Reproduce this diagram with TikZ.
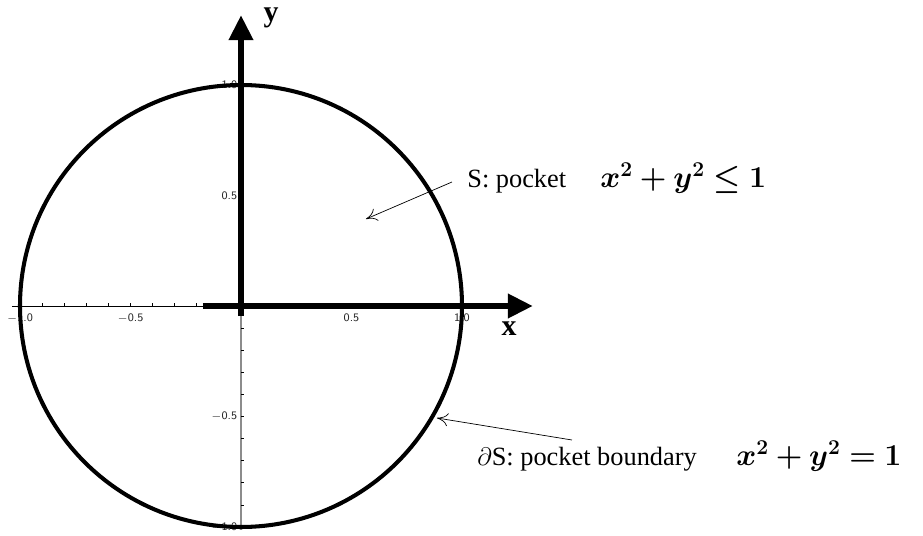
\documentclass[tikz,border=0pt]{standalone}
\usepackage{fontspec}
\setmainfont{Liberation Serif}
\usepackage{bm}
\usetikzlibrary{arrows.meta, positioning}

\begin{document}
\begin{tikzpicture}[x=1cm, y=1cm,
    thickaxis/.style={line width=3.6pt, -{Triangle[length=0.5cm, width=0.46cm]}},
    ticklbl/.style={font=\fontsize{6.5}{7}\sffamily, text=black!85, inner sep=1pt},
    note/.style={font=\fontsize{15}{18}\selectfont, anchor=west, inner sep=0pt},
    axlbl/.style={font=\fontsize{17}{20}\selectfont\bfseries, inner sep=0pt},
    callout/.style={-{To[length=2.2mm, width=2.6mm]}, line width=0.4pt}]
    \useasboundingbox (-4.82,-4.58) rectangle (13.64,6.12);

    % thin axes with ticks (one tick every 0.1)
    \draw[line width=0.5pt] (-4.58,0) -- (0,0);
    \draw[line width=1.2pt, black!45] (0,0) -- (0,-4.48);
    \foreach \t in {-10,...,10} {
        \draw[line width=0.4pt] (\t*0.442,0) -- (\t*0.442,0.07);
        \draw[line width=0.4pt] (0,\t*0.442) -- (0.07,\t*0.442);
    }

    % tick labels
    \node[ticklbl, below=3pt] (xm10) at (-4.42,0) {$-$1.0};
    \node[ticklbl, below=3pt] (xm05) at (-2.21,0) {$-$0.5};
    \node[ticklbl, below=3pt] (xp05) at (2.21,0) {0.5};
    \node[ticklbl, below=3pt] (xp10) at (4.42,0) {1.0};
    \node[ticklbl, left=1pt] (yp10) at (0,4.42) {1.0};
    \node[ticklbl, left=1pt] (yp05) at (0,2.21) {0.5};
    \node[ticklbl, left=1pt] (ym05) at (0,-2.21) {$-$0.5};
    \node[ticklbl, left=1pt] (ym10) at (0,-4.42) {$-$1.0};

    % the pocket S
    \draw[line width=2.3pt] (0,0) circle (4.42);

    % thick axes
    \coordinate (xstart) at (-0.76,0);
    \coordinate (xend) at (5.84,0);
    \coordinate (ystart) at (0,-0.2);
    \coordinate (yend) at (0,5.82);
    \draw[thickaxis] (xstart) -- (xend);
    \draw[thickaxis] (ystart) -- (yend);
    \node[axlbl] (xlbl) at (5.36,-0.46) {x};
    \node[axlbl] (ylbl) at (0.6,5.76) {y};

    % notes
    \node[note] (inner) at (4.52,2.56) {S: pocket\hspace{1.3em}{\fontsize{18.5}{20}\selectfont$\bm{x^2+y^2\leq 1}$}};
    \node[note] (bound) at (4.72,-3.0) {$\partial$S: pocket boundary\hspace{1.5em}{\fontsize{18.5}{20}\selectfont$\bm{x^2+y^2=1}$}};
    \coordinate (innertail) at (4.22,2.48);
    \coordinate (innertip) at (2.5,1.74);
    \coordinate (boundtail) at (6.62,-2.68);
    \coordinate (boundtip) at (3.92,-2.24);
    \draw[callout] (innertail) -- (innertip);
    \draw[callout] (boundtail) -- (boundtip);
\end{tikzpicture}
\end{document}
